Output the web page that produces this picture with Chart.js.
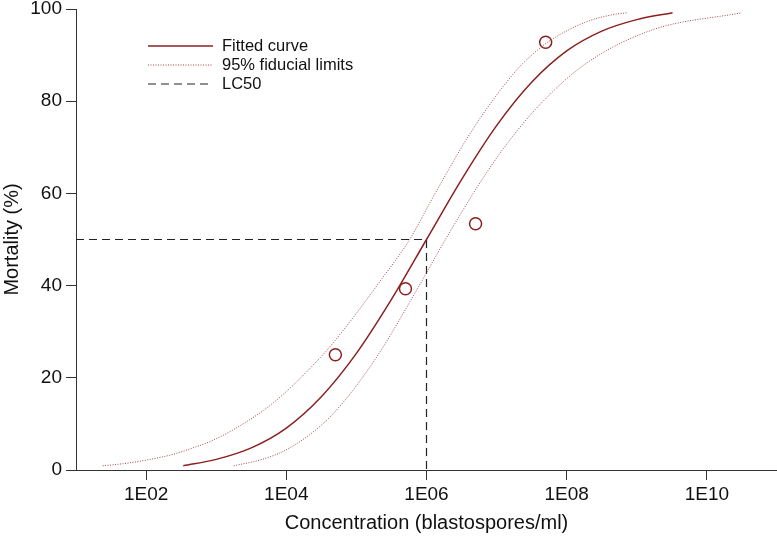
<!DOCTYPE html>
<html>
<head>
<meta charset="utf-8">
<script src="https://cdn.jsdelivr.net/npm/chart.js@4.4.0/dist/chart.umd.min.js"></script>
<style>
  html, body { margin: 0; padding: 0; background: #fff; }
</style>
</head>
<body>
<canvas id="chart" width="777" height="538"></canvas>
<script>
// observed mortality (log10 concentration, %)
const obsLogConc = [4.7, 5.7, 6.7, 7.7];
const obsMortality = [25.0, 39.3, 53.4, 92.8];

// fitted probit curve
const fitLogConc = [2.53, 3.0, 3.5, 4.0, 4.5, 5.0, 5.5, 6.0, 6.5, 7.0, 7.5, 8.0, 8.5, 9.0, 9.51];
const fitMortality = [0.9, 2.3, 4.8, 9.1, 15.9, 25.3, 37.0, 50.0, 63.0, 74.7, 84.1, 90.9, 95.2, 97.7, 99.2];

// 95% fiducial limits (left / right curve)
const lowLogConc = [1.38, 1.74, 2.02, 2.36, 2.65, 2.96, 3.24, 3.68, 4.0, 4.27, 4.58, 4.95, 5.34, 5.76, 6.05, 6.31, 6.58, 6.95, 7.3, 7.5, 7.73, 8.03, 8.35, 8.64, 8.86];
const lowMortality = [0.9, 1.5, 2.2, 3.3, 4.7, 6.5, 8.7, 13.0, 17.0, 21.0, 26.0, 33.0, 41.0, 50.0, 58.0, 65.0, 72.0, 80.3, 87.0, 90.0, 92.8, 95.5, 97.6, 98.7, 99.2];
const highLogConc = [3.25, 3.7, 4.05, 4.52, 4.84, 5.31, 5.87, 6.27, 6.75, 7.11, 7.57, 8.25, 9.21, 10.5];
const highMortality = [0.9, 2.5, 4.8, 10.0, 15.2, 25.0, 39.3, 50.0, 62.0, 70.0, 78.5, 87.9, 95.4, 99.2];

// LC50 guide
const lc50LogConc = 6.0;
const lc50Mortality = 50;

const xTickExp = [2, 4, 6, 8, 10];
const yTicks = [0, 20, 40, 60, 80, 100];

const darkRed = 'rgb(139, 32, 32)';
const fidRed = 'rgb(165, 70, 70)';
const fontFamily = '"Liberation Sans", Arial, sans-serif';

function toPoints(logs, vals) {
    return logs.map((l, i) => ({ x: Math.pow(10, l), y: vals[i] }));
}

const legendPlugin = {
    id: 'insideLegend',
    afterDraw(chart) {
        const ctx = chart.ctx;
        const items = chart.data.datasets.filter(d => d.legend);
        ctx.save();
        ctx.font = '16.5px ' + fontFamily;
        ctx.textBaseline = 'middle';
        items.forEach((d, i) => {
            const y = 46 + i * 19;
            ctx.beginPath();
            ctx.strokeStyle = d.borderColor;
            ctx.lineWidth = d.borderWidth;
            ctx.setLineDash(d.borderDash || []);
            ctx.moveTo(148, y);
            ctx.lineTo(213, y);
            ctx.stroke();
            ctx.setLineDash([]);
            ctx.fillStyle = '#111';
            ctx.fillText(d.label, 222, y);
        });
        ctx.restore();
    }
};

const ctx = document.getElementById('chart').getContext('2d');
new Chart(ctx, {
    type: 'scatter',
    data: {
        datasets: [
            {
                label: 'Fitted curve',
                legend: true,
                data: toPoints(fitLogConc, fitMortality),
                showLine: true,
                borderColor: darkRed,
                borderWidth: 1.5,
                pointRadius: 0,
                cubicInterpolationMode: 'monotone'
            },
            {
                label: '95% fiducial limits',
                legend: true,
                data: toPoints(lowLogConc, lowMortality),
                showLine: true,
                borderColor: fidRed,
                borderWidth: 1,
                borderDash: [1, 1.5],
                pointRadius: 0,
                cubicInterpolationMode: 'monotone'
            },
            {
                label: '95% fiducial limits (upper)',
                data: toPoints(highLogConc, highMortality),
                showLine: true,
                borderColor: fidRed,
                borderWidth: 1,
                borderDash: [1, 1.5],
                pointRadius: 0,
                cubicInterpolationMode: 'monotone'
            },
            {
                label: 'LC50',
                legend: true,
                data: [
                    { x: 10, y: lc50Mortality },
                    { x: Math.pow(10, lc50LogConc), y: lc50Mortality },
                    { x: Math.pow(10, lc50LogConc), y: 0 }
                ],
                showLine: true,
                borderColor: '#222',
                borderWidth: 1.2,
                borderDash: [8, 5],
                pointRadius: 0
            },
            {
                label: 'Observed',
                data: toPoints(obsLogConc, obsMortality),
                showLine: false,
                pointStyle: 'circle',
                pointRadius: 6,
                borderColor: darkRed,
                borderWidth: 1.5,
                backgroundColor: 'rgba(255,255,255,0)'
            }
        ]
    },
    options: {
        responsive: false,
        animation: false,
        layout: { autoPadding: false, padding: { top: 9, right: 0, left: 0, bottom: 0 } },
        plugins: {
            legend: { display: false },
            tooltip: { enabled: false }
        },
        scales: {
            x: {
                type: 'logarithmic',
                position: 'bottom',
                min: 10,
                max: 1e11,
                bounds: 'data',
                afterBuildTicks: s => { s.ticks = xTickExp.map(e => ({ value: Math.pow(10, e) })); },
                afterFit: s => { s.height = 68; s.paddingLeft = 0; s.paddingRight = 0; },
                ticks: {
                    autoSkip: false,
                    maxRotation: 0,
                    padding: 3,
                    color: '#111',
                    font: { family: fontFamily, size: 19 },
                    callback: v => '1E' + String(Math.round(Math.log10(v))).padStart(2, '0')
                },
                grid: { drawOnChartArea: false, drawTicks: true, tickLength: 10, color: '#333' },
                border: { color: '#333', width: 1 },
                title: {
                    display: true,
                    text: 'Concentration (blastospores/ml)',
                    color: '#111',
                    font: { family: fontFamily, size: 20 },
                    padding: { top: 0, bottom: 3 }
                }
            },
            y: {
                min: 0,
                max: 100,
                afterBuildTicks: s => { s.ticks = yTicks.map(v => ({ value: v })); },
                afterFit: s => { s.width = 76; s.paddingTop = 0; s.paddingBottom = 0; },
                ticks: {
                    padding: 4,
                    color: '#111',
                    font: { family: fontFamily, size: 19 }
                },
                grid: { drawOnChartArea: false, drawTicks: true, tickLength: 10, color: '#333' },
                border: { color: '#333', width: 1 },
                title: {
                    display: true,
                    text: 'Mortality (%)',
                    color: '#111',
                    font: { family: fontFamily, size: 20 },
                    padding: { top: 0, bottom: 0 }
                }
            }
        }
    },
    plugins: [legendPlugin]
});
</script>
</body>
</html>
